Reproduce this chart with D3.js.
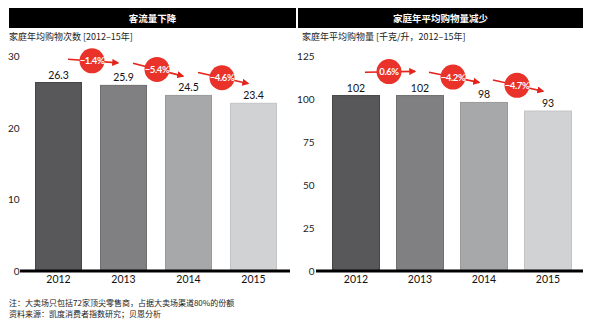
<!DOCTYPE html>
<html><head><meta charset="utf-8">
<script src="https://cdn.jsdelivr.net/npm/d3@7"></script>
<style>
body{margin:0;background:#fff;}
svg{display:block;}
text{font-family:Lato,"Liberation Sans","Noto Sans CJK SC",sans-serif;}
.cjk{font-family:"Noto Sans CJK SC",sans-serif;}
</style></head>
<body>
<svg id="c" width="600" height="325"></svg>
<script>
const years = ["2012","2013","2014","2015"];
const visits = [26.3, 25.9, 24.5, 23.4];
const volume = [102, 102, 98, 93];
const visitChanges = ["−1.4%","−5.4%","−4.6%"];
const volumeChanges = ["0.6%","−4.2%","−4.7%"];
const visitPct = [-1.4, -5.4, -4.6];
const volumePct = [0.6, -4.2, -4.7];
const visitTicks = [0,10,20,30];
const volumeTicks = [0,25,50,75,100,125];
const barColors = ["#58585a","#808082","#a7a8aa","#d1d2d4"];
const barStroke = ["#454547","#6e6e70","#98999b","#c3c4c6"];
const titles = ["客流量下降","家庭年平均购物量减少"];
const subtitles = ["家庭年均购物次数 [2012–15年]","家庭年平均购物量 [千克/升，2012–15年]"];
const notes = ["注：大卖场只包括72家顶尖零售商，占据大卖场渠道80%的份额","资料来源：凯度消费者指数研究；贝恩分析"];

const svg = d3.select("#c");
const red = "#e8322a";
svg.append("defs").append("marker")
  .attr("id","ah").attr("viewBox","0 0 10 10").attr("refX",8).attr("refY",5)
  .attr("markerWidth",4.5).attr("markerHeight",4.5).attr("orient","auto")
  .append("path").attr("d","M0,0L10,5L0,10z").attr("fill","#e4231b");

function panel(cfg){
  const g = svg.append("g");
  g.append("rect").attr("x",cfg.hx0).attr("y",8).attr("width",cfg.hx1-cfg.hx0).attr("height",20).attr("fill","#000");
  g.append("text").attr("class","cjk").attr("x",(cfg.hx0+cfg.hx1)/2).attr("y",21.5).attr("text-anchor","middle")
    .attr("fill","#fff").attr("font-size",9.5).attr("font-weight","bold").text(cfg.title);
  g.append("text").attr("class","cjk").attr("x",cfg.hx0+ (cfg.sx||0)).attr("y",40).attr("fill","#222").attr("font-size",9).text(cfg.subtitle);

  const x = d3.scaleBand().domain(years).range(cfg.xr).paddingInner(cfg.pi).paddingOuter(cfg.po);
  const y = d3.scaleLinear().domain([0, cfg.max]).range([271, 56]);

  const ya = d3.axisLeft(y).tickValues(cfg.ticks).tickSize(0).tickPadding(0);
  const yg = g.append("g").attr("transform",`translate(${cfg.ylx},0)`).call(ya);
  yg.select(".domain").remove();
  yg.selectAll("text").attr("font-size",10).attr("fill","#222").attr("dy","0.35em");

  g.selectAll(".bar").data(cfg.values).join("rect")
    .attr("x",(d,i)=>x(years[i])+0.5).attr("y",d=>y(d))
    .attr("width",x.bandwidth()-1).attr("height",d=>y(0)-y(d))
    .attr("fill",(d,i)=>barColors[i]).attr("stroke",(d,i)=>barStroke[i]).attr("stroke-width",1);

  g.selectAll(".vl").data(cfg.values).join("text")
    .attr("x",(d,i)=>x(years[i])+x.bandwidth()/2).attr("y",d=>y(d)-4)
    .attr("text-anchor","middle").attr("font-size",10.5).attr("fill","#111")
    .text(d=>d.toFixed(cfg.dec));

  g.append("line").attr("x1",cfg.bx0).attr("x2",cfg.bx1).attr("y1",y(0)).attr("y2",y(0))
    .attr("stroke","#000").attr("stroke-width",3);

  const xa = d3.axisBottom(x).tickSize(0).tickPadding(0);
  const xg = g.append("g").attr("transform",`translate(0,${y(0)+3})`).call(xa);
  xg.select(".domain").remove();
  xg.selectAll("text").attr("font-size",10.5).attr("fill","#111").attr("dy","0.9em");

  const ann = cfg.changes.map((t,i)=>{
    const x0 = x(years[i])+x.bandwidth()/2, x1 = x(years[i+1])+x.bandwidth()/2;
    const cx = (x0+x1)/2 + 1;
    const cy = 0.2*y(cfg.values[i]) + 0.8*y(cfg.values[i+1]) - 24;
    const dy = -cfg.pct[i]*2.3;
    return {t, cx, cy, dy};
  });
  const ag = g.selectAll(".ann").data(ann).join("g");
  ag.append("line")
    .attr("x1",d=>d.cx-24).attr("y1",d=>d.cy-d.dy/2)
    .attr("x2",d=>d.cx+26).attr("y2",d=>d.cy+d.dy/2+0.5)
    .attr("stroke","#e4231b").attr("stroke-width",1.6).attr("marker-end","url(#ah)");
  ag.append("circle").attr("cx",d=>d.cx).attr("cy",d=>d.cy).attr("r",12.5).attr("fill",red);
  ag.append("text").attr("x",d=>d.cx).attr("y",d=>d.cy+3.5).attr("text-anchor","middle")
    .attr("fill","#fff").attr("font-size",9.5).attr("font-weight","bold").attr("letter-spacing",-0.4)
    .text(d=>d.t);
}

panel({hx0:9,hx1:296,title:titles[0],subtitle:subtitles[0],xr:[26,286],pi:0.277,po:0.1385,
  max:30,ticks:visitTicks,ylx:19.5,values:visits,dec:1,bx0:20,bx1:290,changes:visitChanges,pct:visitPct});
panel({hx0:298,hx1:583,sx:4,title:titles[1],subtitle:subtitles[1],xr:[324,580],pi:0.25,po:0.125,
  max:125,ticks:volumeTicks,ylx:314.5,values:volume,dec:0,bx0:316,bx1:583,changes:volumeChanges,pct:volumePct});

svg.selectAll(".note").data(notes).join("text").attr("class","cjk")
  .attr("x",9).attr("y",(d,i)=>306+i*11).attr("font-size",8).attr("fill","#222").text(d=>d);
</script>
</body></html>
